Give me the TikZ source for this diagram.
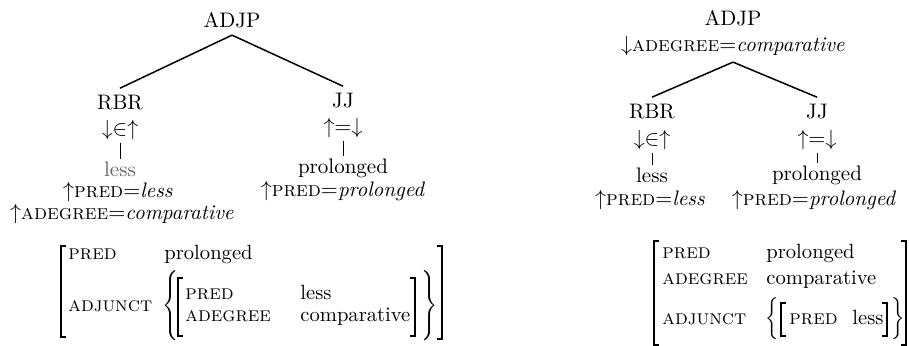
\documentclass[tikz,border=0pt]{standalone}
\usepackage{amsmath,amssymb,graphicx}
\usepackage{tikz}
\usetikzlibrary{positioning}
\newcommand{\fs}[1]{\textsc{#1}}
% square brackets of an f-structure: x, top, bottom
\newcommand{\lbrk}[3]{\draw[brk] (#1+5,#2) -| (#1,#3) -- (#1+5,#3);}
\newcommand{\rbrk}[3]{\draw[brk] (#1-5,#2) -| (#1,#3) -- (#1-5,#3);}
\tikzset{
  cat/.style={inner xsep=1pt,inner ysep=3.5pt,font=\fontsize{10.5}{12}\selectfont},
  ann/.style={inner xsep=1pt,inner ysep=1.2pt,font=\fontsize{10.5}{12}\selectfont},
  ast/.style={line width=0.75pt},
  vbar/.style={line width=0.5pt},
  att/.style={inner sep=0pt,anchor=base west,font=\fontsize{10.3}{12}\selectfont\scshape},
  val/.style={inner sep=0pt,anchor=base west,font=\fontsize{10.3}{12}\selectfont},
  brc/.style={inner sep=0pt,anchor=west},
  brk/.style={line width=0.6pt},
}

\begin{document}
\begin{tikzpicture}[x=0.5pt,y=-0.5pt]
  \useasboundingbox (0,0) rectangle (909,346);
  % left tree
  \begin{scope}
    \node[cat] (adjpL) at (232,20) {ADJP};
    \node[cat] (rbrL) at (120,103) {RBR};
    \node[ann] (rbrLa) at (120,130) {$\downarrow\in\uparrow$};
    \node[ann,text=black!60] (lessL) at (120,169) {less};
    \node[ann] (lessLa) at (118,192) {$\uparrow$\fs{pred}$=$\textit{less}};
    \node[ann] (lessLb) at (122,214) {$\uparrow$\fs{adegree}$=$\textit{comparative}};
    \node[cat] (jjL) at (343,101) {JJ};
    \node[ann] (jjLa) at (343,128) {$\uparrow=\downarrow$};
    \node[ann] (prolL) at (343,168) {prolonged};
    \node[ann] (prolLa) at (343,191) {$\uparrow$\fs{pred}$=$\textit{prolonged}};
    \draw[ast] (adjpL.south) -- (rbrL.north);
    \draw[ast] (adjpL.south) -- (jjL.north);
    \draw[vbar] (rbrLa.south) -- (lessL.north);
    \draw[vbar] (jjLa.south) -- (prolL.north);
    % f-structure
    \lbrk{61}{246}{337} \rbrk{442}{246}{339}
    \node[att] (fLpred) at (68,260) {pred};
    \node[val] (fLprol) at (164,260) {prolonged};
    \node[att] (fLadj) at (68,312) {adjunct};
    \node[brc] (fLlb) at (162,306) {\scalebox{1}[1.17]{$\Biggl\{$}};
    \lbrk{178}{278}{336} \rbrk{415}{278}{336}
    \node[att] (fLipred) at (185,300) {pred};
    \node[val] (fLless) at (300,300) {less};
    \node[att] (fLideg) at (185,322) {adegree};
    \node[val] (fLcomp) at (300,322) {comparative};
    \node[brc] (fLrb) at (421,306) {\scalebox{1}[1.17]{$\Biggr\}$}};
  \end{scope}
  % right tree
  \begin{scope}
    \node[cat,inner ysep=1pt] (adjpR) at (733,18) {ADJP};
    \node[ann,inner ysep=3pt] (adjpRa) at (733,46) {$\downarrow$\fs{adegree}$=$\textit{comparative}};
    \node[cat] (rbrR) at (652,112) {RBR};
    \node[ann] (rbrRa) at (652,140) {$\downarrow\in\uparrow$};
    \node[ann] (lessR) at (652,175) {less};
    \node[ann] (lessRa) at (650,200) {$\uparrow$\fs{pred}$=$\textit{less}};
    \node[cat] (jjR) at (817,112) {JJ};
    \node[ann] (jjRa) at (817,140) {$\uparrow=\downarrow$};
    \node[ann] (prolR) at (817,175) {prolonged};
    \node[ann] (prolRa) at (814,200) {$\uparrow$\fs{pred}$=$\textit{prolonged}};
    \draw[ast] (adjpRa.south) -- (rbrR.north);
    \draw[ast] (adjpRa.south) -- (jjR.north);
    \draw[vbar] (rbrRa.south) -- (lessR.north);
    \draw[vbar] (jjRa.south) -- (prolR.north);
    % f-structure
    \lbrk{654}{241}{345} \rbrk{906}{241}{345}
    \node[att] (fRpred) at (662,259) {pred};
    \node[val] (fRprol) at (766,259) {prolonged};
    \node[att] (fRdeg) at (662,285) {adegree};
    \node[val] (fRcomp) at (766,285) {comparative};
    \node[att] (fRadj) at (662,325) {adjunct};
    \node[brc] (fRlb) at (765,319) {\scalebox{1}[1.17]{$\Bigl\{$}};
    \lbrk{781}{303}{336} \rbrk{887}{303}{336}
    \node[att] (fRipred) at (789,325) {pred};
    \node[val] (fRless) at (852,325) {less};
    \node[brc] (fRrb) at (891,319) {\scalebox{1}[1.17]{$\Bigr\}$}};
  \end{scope}
\end{tikzpicture}
\end{document}
